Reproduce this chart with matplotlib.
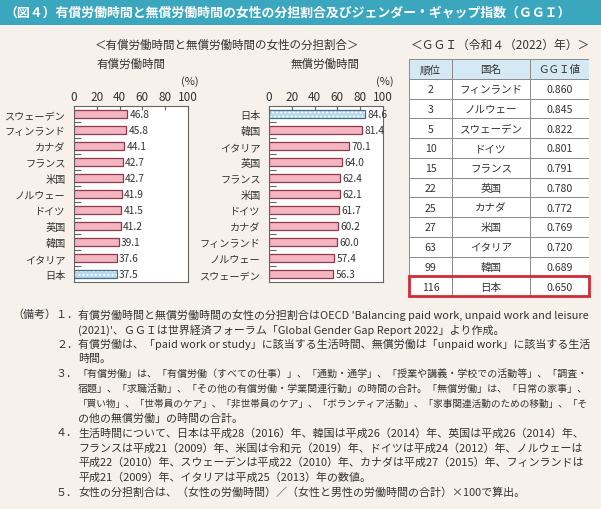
import matplotlib
matplotlib.use("Agg")
import matplotlib.pyplot as plt
from matplotlib.patches import Rectangle

plt.rcParams['font.family'] = ['Noto Sans CJK JP', 'DejaVu Sans']

# paid work share of women (%), top to bottom
paid_countries = ["スウェーデン", "フィンランド", "カナダ", "フランス", "米国", "ノルウェー",
                  "ドイツ", "英国", "韓国", "イタリア", "日本"]
paid_values = [46.8, 45.8, 44.1, 42.7, 42.7, 41.9, 41.5, 41.2, 39.1, 37.6, 37.5]

# unpaid work share of women (%), top to bottom
unpaid_countries = ["日本", "韓国", "イタリア", "英国", "フランス", "米国", "ドイツ",
                    "カナダ", "フィンランド", "ノルウェー", "スウェーデン"]
unpaid_values = [84.6, 81.4, 70.1, 64.0, 62.4, 62.1, 61.7, 60.2, 60.0, 57.4, 56.3]

# GGI table
ggi_header = ["順位", "国名", "ＧＧＩ値"]
ggi_rank = ["2", "3", "5", "10", "15", "22", "25", "27", "63", "99", "116"]
ggi_country = ["フィンランド", "ノルウェー", "スウェーデン", "ドイツ", "フランス", "英国",
               "カナダ", "米国", "イタリア", "韓国", "日本"]
ggi_value = ["0.860", "0.845", "0.822", "0.801", "0.791", "0.780", "0.772", "0.769",
             "0.720", "0.689", "0.650"]

xticks = [0, 20, 40, 60, 80, 100]

notes = [
    ("（備考）１．", "有償労働時間と無償労働時間の女性の分担割合はOECD 'Balancing paid work, unpaid work and leisure"),
    ("", "(2021)'、ＧＧＩは世界経済フォーラム「Global Gender Gap Report 2022」より作成。"),
    ("２．", "有償労働は、「paid work or study」に該当する生活時間、無償労働は「unpaid work」に該当する生活"),
    ("", "時間。"),
    ("３．", "「有償労働」は、「有償労働（すべての仕事）」、「通勤・通学」、「授業や講義・学校での活動等」、「調査・"),
    ("", "宿題」、「求職活動」、「その他の有償労働・学業関連行動」の時間の合計。「無償労働」は、「日常の家事」、"),
    ("", "「買い物」、「世帯員のケア」、「非世帯員のケア」、「ボランティア活動」、「家事関連活動のための移動」、「そ"),
    ("", "の他の無償労働」の時間の合計。"),
    ("４．", "生活時間について、日本は平成28（2016）年、韓国は平成26（2014）年、英国は平成26（2014）年、"),
    ("", "フランスは平成21（2009）年、米国は令和元（2019）年、ドイツは平成24（2012）年、ノルウェーは"),
    ("", "平成22（2010）年、スウェーデンは平成22（2010）年、カナダは平成27（2015）年、フィンランドは"),
    ("", "平成21（2009）年、イタリアは平成25（2013）年の数値。"),
    ("５．", "女性の分担割合は、（女性の労働時間）／（女性と男性の労働時間の合計）×100で算出。"),
]

W, H = 601, 510
bg = "#f6f1ea"
pink = "#f4b5c3"
pink_edge = "#8e3a4c"
blue = "#b3d8ee"
blue_edge = "#4c6c82"
txt = "#333333"

fig = plt.figure(figsize=(W / 100, H / 100), dpi=100, facecolor=bg)


def px_rect(x0, y0, x1, y1):
    return [x0 / W, 1 - y1 / H, (x1 - x0) / W, (y1 - y0) / H]


# title band
band = fig.add_axes([0, 1 - 26 / H, 1, 26 / H])
band.set_facecolor("#3aa7bf")
band.set_xticks([])
band.set_yticks([])
for s in band.spines.values():
    s.set_visible(False)
fig.text(4 / W, 1 - 13 / H, "（図４）有償労働時間と無償労働時間の女性の分担割合及びジェンダー・ギャップ指数（ＧＧＩ）",
         color="white", fontsize=9.3, fontweight="bold", va="center", ha="left")

fig.text(227 / W, 1 - 45 / H, "＜有償労働時間と無償労働時間の女性の分担割合＞", fontsize=8.3,
         color=txt, ha="center", va="center")
fig.text(131 / W, 1 - 64 / H, "有償労働時間", fontsize=8.3, color=txt, ha="center", va="center")
fig.text(325 / W, 1 - 64 / H, "無償労働時間", fontsize=8.3, color=txt, ha="center", va="center")


def bar_panel(rect, countries, values):
    ax = fig.add_axes(rect)
    ax.set_facecolor("white")
    ypos = list(range(len(countries)))
    for y, c, v in zip(ypos, countries, values):
        if c == "日本":
            ax.barh(y, v, height=0.56, color=blue, hatch="....", edgecolor="white", linewidth=0)
            ax.barh(y, v, height=0.56, fill=False, edgecolor=blue_edge, linewidth=0.9)
        else:
            ax.barh(y, v, height=0.56, color=pink, edgecolor=pink_edge, linewidth=0.9)
        ax.text(v + 2, y, f"{v:.1f}", fontsize=7.3, color=txt, va="center", ha="left")
    ax.set_xlim(0, 100)
    ax.set_ylim(len(countries) - 0.5, -0.5)
    ax.set_yticks(ypos)
    ax.set_yticklabels(countries, fontsize=7.3, color=txt)
    ax.set_yticks([y + 0.5 for y in ypos[:-1]], minor=True)
    ax.tick_params(axis="y", which="major", length=0, pad=6)
    ax.tick_params(axis="y", which="minor", direction="in", length=5, color="#666666", width=0.8)
    ax.set_xticks(xticks)
    ax.xaxis.tick_top()
    ax.tick_params(axis="x", direction="in", length=3, color="#666666", labelsize=8.5,
                   labelcolor=txt, pad=2)
    for s in ax.spines.values():
        s.set_color("#666666")
        s.set_linewidth(0.8)
    ax.text(1.09, 1.142, "(%)", transform=ax.transAxes, fontsize=8, color=txt,
            ha="right", va="center")
    return ax


bar_panel(px_rect(74, 107, 188, 283), paid_countries, paid_values)
bar_panel(px_rect(269, 107, 383, 283), unpaid_countries, unpaid_values)

# GGI table
fig.text(500 / W, 1 - 45 / H, "＜ＧＧＩ（令和４（2022）年）＞", fontsize=8.5, color=txt,
         ha="center", va="center")
tx = fig.add_axes(px_rect(409, 60, 589, 297))
tx.set_xlim(0, 180)
nrows = len(ggi_rank) + 1
tx.set_ylim(nrows, 0)
tx.axis("off")
col_edges = [0, 43, 121, 180]
grid = "#8a8a8a"
for r in range(nrows):
    fc = "#d4e9f4" if r == 0 else "white"
    for c in range(3):
        tx.add_patch(Rectangle((col_edges[c], r), col_edges[c + 1] - col_edges[c], 1,
                               facecolor=fc, edgecolor=grid, linewidth=0.7))
    if r == 0:
        cells = ggi_header
    else:
        cells = [ggi_rank[r - 1], ggi_country[r - 1], ggi_value[r - 1]]
    for c, s in enumerate(cells):
        tx.text((col_edges[c] + col_edges[c + 1]) / 2, r + 0.52, s, fontsize=7.6,
                color=txt, ha="center", va="center")
tx.add_patch(Rectangle((0.5, nrows - 1), 179, 1, fill=False, edgecolor="#d42a35",
                       linewidth=2.0, clip_on=False))

# notes: shrink any line that would run past the right margin
renderer = fig.canvas.get_renderer()
y0 = 315
dy = 14.8
base_fs = 7.9
max_w = 512
for i, (head, body) in enumerate(notes):
    y = 1 - (y0 + i * dy) / H
    if head:
        fig.text(78 / W, y, head, fontsize=base_fs, color=txt, ha="right", va="center")
    t = fig.text(78 / W, y, body, fontsize=base_fs, color=txt, ha="left", va="center")
    w = t.get_window_extent(renderer).width
    if w > max_w:
        t.set_fontsize(base_fs * max_w / w)

fig.savefig("out.png", dpi=100, facecolor=bg)
